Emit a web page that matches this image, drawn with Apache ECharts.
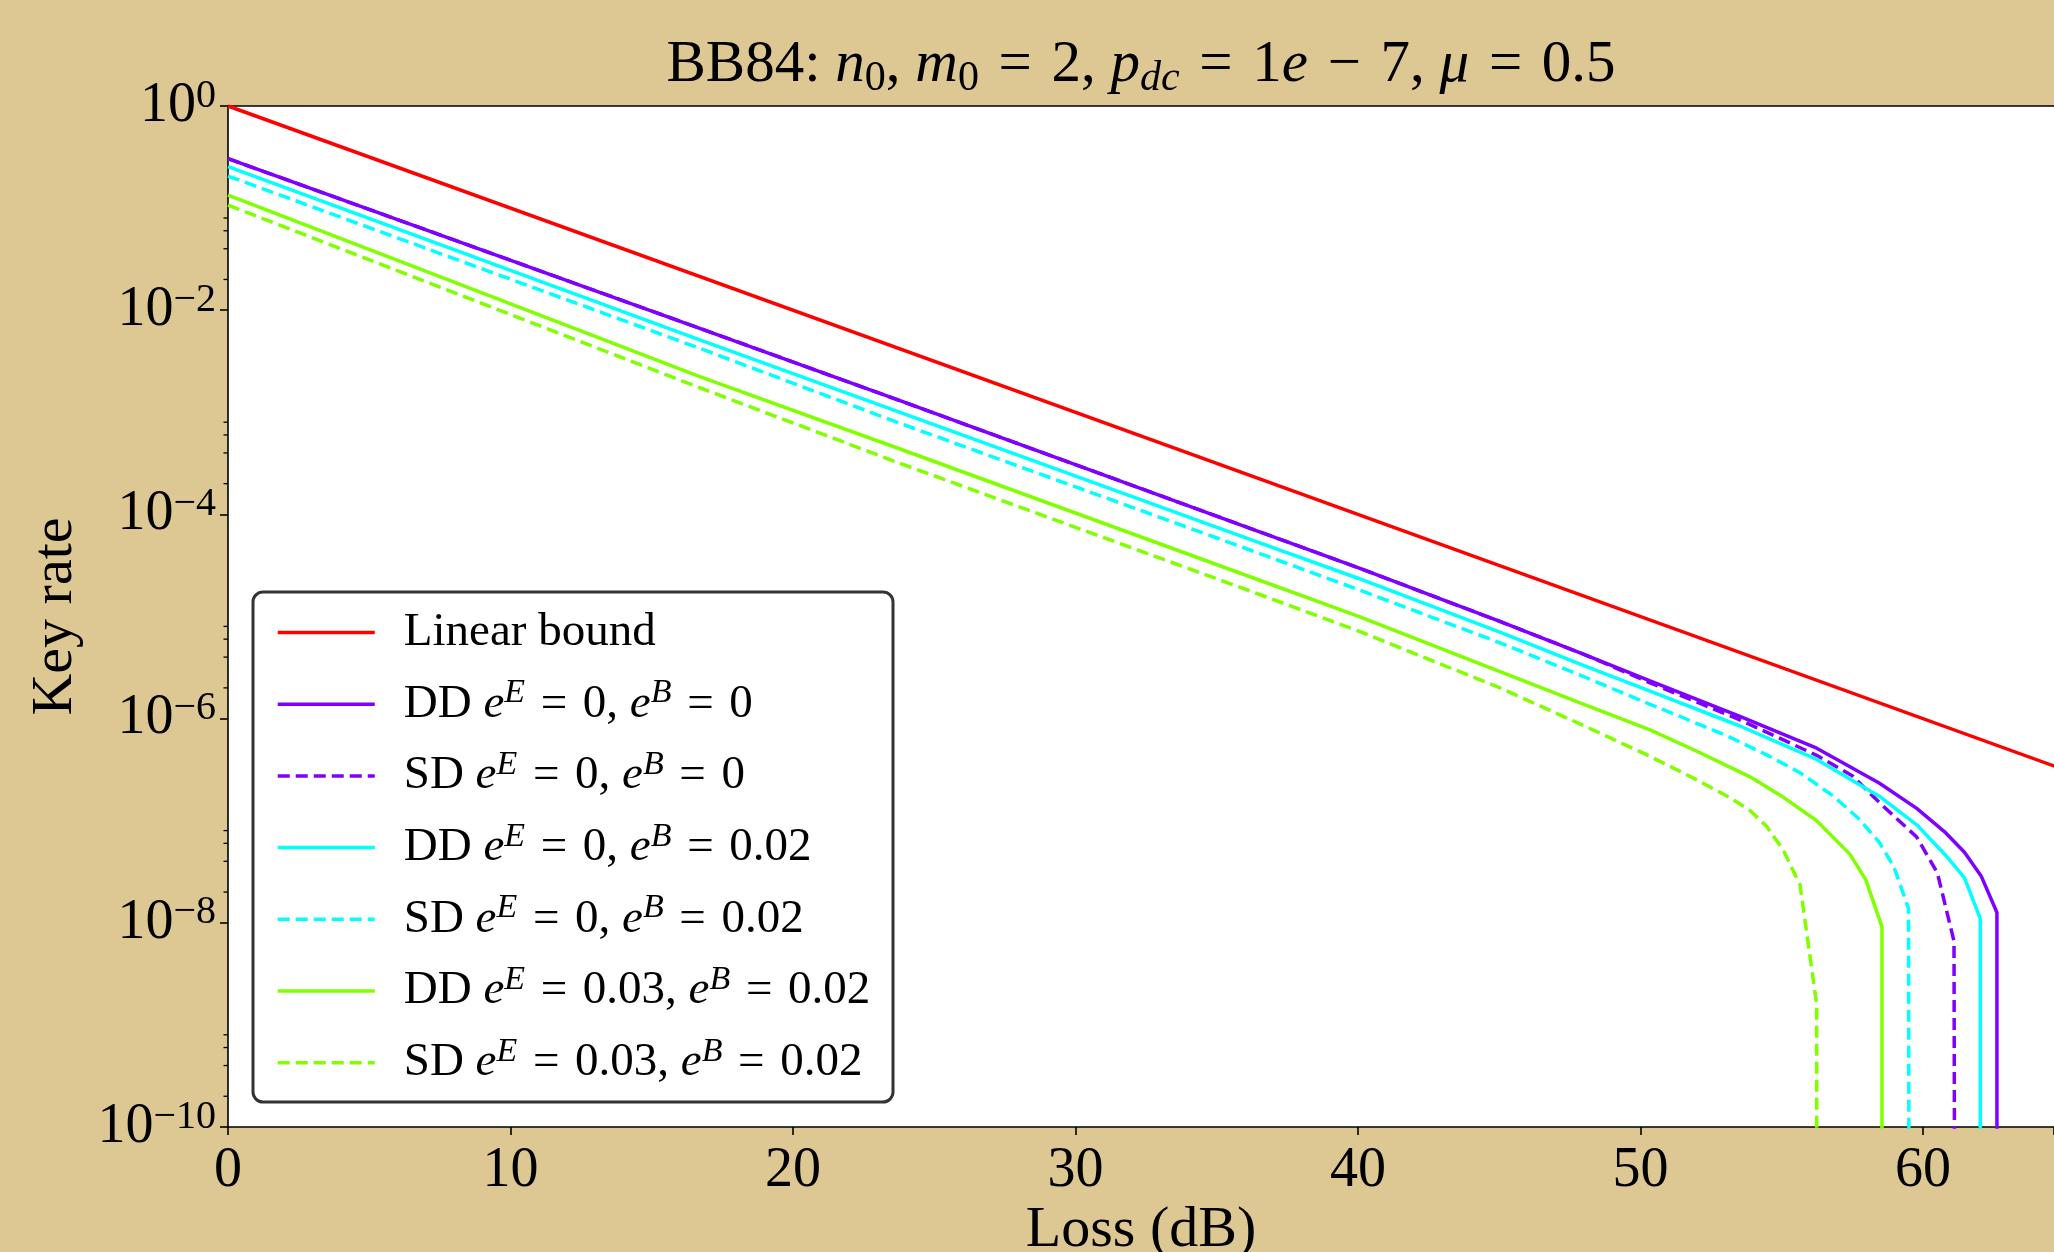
<!DOCTYPE html>
<html><head><meta charset="utf-8">
<script src="https://cdn.jsdelivr.net/npm/echarts@6/dist/echarts.min.js"></script>
<style>html,body{margin:0;padding:0;background:#ddc792;overflow:hidden}#c{width:2054px;height:1252px}</style>
</head><body><div id="c"></div><script>
// ---------- data ----------
const xTickValues = [0, 10, 20, 30, 40, 50, 60];
const yMajorExponents = [0, -2, -4, -6, -8, -10];
const yMinorTicks = [2e-10,4e-10,6e-10,8e-10, 2e-8,4e-8,6e-8,8e-8, 2e-6,4e-6,6e-6,8e-6, 2e-4,4e-4,6e-4,8e-4, 2e-2,4e-2,6e-2,8e-2];
const FLOOR = 1e-13; // rate dropped to zero

const linearBound = [[0, 1], [65, 3.16e-7]];
const ddE0B0 = [[0,3.05e-1],[16.7,6.65e-3],[23.79,1.30e-3],[36.18,7.31e-5],[40,3.01e-5],[45,9.0e-6],[48,4.26e-6],[50.34,2.34e-6],[53.5,1.06e-6],[56.24,5.13e-7],[58.45,2.34e-7],[59.78,1.32e-7],[60.81,7.59e-8],[61.47,4.9e-8],[62.06,2.88e-8],[62.62,1.26e-8],[62.62,FLOOR]];
const sdE0B0 = [[0,3.05e-1],[16.7,6.65e-3],[23.79,1.30e-3],[36.18,7.31e-5],[40,3.01e-5],[45,9.0e-6],[48,4.26e-6],[50.34,2.24e-6],[53.5,9.77e-7],[56.24,4.37e-7],[57.5,2.75e-7],[58.52,1.45e-7],[59.78,6.92e-8],[60.51,3.09e-8],[61.1,6.61e-9],[61.14,FLOOR]];
const ddE0B002 = [[0,2.55e-1],[16.7,5.13e-3],[23.79,1.0e-3],[36.18,5.70e-5],[40,2.37e-5],[45,7.08e-6],[48,3.31e-6],[50.34,1.86e-6],[53.5,8.51e-7],[56.24,3.98e-7],[58.45,1.74e-7],[59.78,9.12e-8],[60.81,4.57e-8],[61.47,2.75e-8],[62.03,1.1e-8],[62.03,FLOOR]];
const sdE0B002 = [[0,2.06e-1],[16.7,4.23e-3],[23.79,7.8e-4],[36.18,4.48e-5],[40,1.84e-5],[45,5.56e-6],[48,2.57e-6],[50.34,1.38e-6],[53,6.92e-7],[54.5,4.37e-7],[55.65,2.95e-7],[56.83,1.74e-7],[57.72,1.05e-7],[58.45,6.17e-8],[58.97,3.55e-8],[59.49,1.38e-8],[59.52,FLOOR]];
const ddE003B002 = [[0,1.34e-1],[16.7,2.24e-3],[23.79,4.37e-4],[36.18,2.45e-5],[40,1.01e-5],[45.03,2.88e-6],[48,1.38e-6],[50.34,7.76e-7],[52,4.79e-7],[53.88,2.69e-7],[55,1.74e-7],[56.24,1.0e-7],[57.42,4.68e-8],[57.98,2.63e-8],[58.55,9.12e-9],[58.55,FLOOR]];
const sdE003B002 = [[0,1.07e-1],[16.7,1.74e-3],[23.79,3.16e-4],[36.18,1.78e-5],[40,7.24e-6],[45.03,2.0e-6],[48,8.51e-7],[50.34,4.27e-7],[52,2.51e-7],[53.2,1.66e-7],[53.88,1.26e-7],[54.48,8.71e-8],[55.06,5.13e-8],[55.65,2.34e-8],[56.24,1.58e-9],[56.24,FLOOR]];

const seriesNames = ['Linear bound','DD e0 b0','SD e0 b0','DD e0 b002','SD e0 b002','DD e003 b002','SD e003 b002'];
const Q = '\u2004'; // wider math space
const eq = Q + '=' + Q;
const legendLabels = [
  '{r|Linear bound}',
  '{r|DD }{i|e}{s|E}{r|'+eq+'0, }{i|e}{s|B}{r|'+eq+'0}',
  '{r|SD }{i|e}{s|E}{r|'+eq+'0, }{i|e}{s|B}{r|'+eq+'0}',
  '{r|DD }{i|e}{s|E}{r|'+eq+'0, }{i|e}{s|B}{r|'+eq+'0.02}',
  '{r|SD }{i|e}{s|E}{r|'+eq+'0, }{i|e}{s|B}{r|'+eq+'0.02}',
  '{r|DD }{i|e}{s|E}{r|'+eq+'0.03, }{i|e}{s|B}{r|'+eq+'0.02}',
  '{r|SD }{i|e}{s|E}{r|'+eq+'0.03, }{i|e}{s|B}{r|'+eq+'0.02}'
];
const titleText = '{r|BB84: }{i|n}{sub|0}{r|, }{i|m}{sub|0}{r|'+eq+'2, }{i|p}{subi|dc}{r|'+eq+'1}{i|e}{r|'+Q+'−'+Q+'7, }{i|μ}{r|'+eq+'0.5}';
const seriesData = [linearBound, ddE0B0, sdE0B0, ddE0B002, sdE0B002, ddE003B002, sdE003B002];
const seriesColors = ['#ff0000','#7f00ff','#7f00ff','#00ffff','#00ffff','#80ff00','#80ff00'];
const seriesDashed = [false,false,true,false,true,false,true];

// ---------- chart ----------
const F = "'Liberation Serif','DejaVu Serif',serif";
const chart = echarts.init(document.getElementById('c'), null, {renderer:'canvas'});
const series = seriesData.map((d,i)=>({
  type:'line', name:seriesNames[i], data:d, symbol:'none', showSymbol:false, clip:true, z:3,
  lineStyle:{color:seriesColors[i], width:3.5, type: seriesDashed[i] ? [12,6] : 'solid'},
  itemStyle:{color:seriesColors[i]}
}));
series.push({
  type:'custom', name:'minorTicks', silent:true, clip:false, z:6,
  data: yMinorTicks.map(v=>[0,v]),
  encode:{x:0,y:1},
  renderItem:(params, api)=>{
    const p = api.coord([0, api.value(1)]);
    return {type:'line', shape:{x1:p[0]-4.5, y1:p[1], x2:p[0], y2:p[1]}, style:{stroke:'#000', lineWidth:1.3}};
  }
});
const legendMap = {};
seriesNames.forEach((n,i)=>legendMap[n]=legendLabels[i]);

chart.setOption({
  backgroundColor:'#ddc792',
  animation:false,
  title:{
    text:titleText,
    left:1141, top:30, textAlign:'center', padding:0,
    textStyle:{ fontWeight:'normal', rich:{
      r:{fontFamily:F,fontSize:59,fontWeight:'normal',color:'#000',lineHeight:70},
      i:{fontFamily:F,fontSize:59,fontWeight:'normal',fontStyle:'italic',color:'#000',lineHeight:70},
      sub:{fontFamily:F,fontSize:42,fontWeight:'normal',color:'#000',verticalAlign:'bottom',lineHeight:44},
      subi:{fontFamily:F,fontSize:42,fontWeight:'normal',fontStyle:'italic',color:'#000',verticalAlign:'bottom',lineHeight:44}
    }}
  },
  grid:{left:228, right:0, top:106, bottom:125, show:true, backgroundColor:'#fff', borderWidth:0, containLabel:false, outerBoundsMode:'none'},
  legend:{
    orient:'vertical', left:271, top:604, z:20,
    data:seriesNames, itemWidth:97, itemHeight:14, itemGap:20.2,
    formatter: n=>legendMap[n],
    lineStyle:{width:3.5},
    itemStyle:{opacity:0},
    textStyle:{padding:[0,0,0,24], rich:{
      r:{fontFamily:F,fontSize:47,color:'#000',lineHeight:56},
      i:{fontFamily:F,fontSize:47,fontStyle:'italic',color:'#000',lineHeight:56},
      s:{fontFamily:F,fontSize:34,fontStyle:'italic',color:'#000',verticalAlign:'top',lineHeight:30}
    }}
  },
  graphic:[{type:'rect', z:10, shape:{x:253,y:592,width:640,height:510,r:10}, style:{fill:'#fff',stroke:'#333',lineWidth:3}}],
  xAxis:[{
    type:'value', min:0, max:64.64, interval:10, gridIndex:0,
    axisLine:{show:true,lineStyle:{color:'#000',width:1.6}},
    axisTick:{show:true,inside:false,length:8,lineStyle:{color:'#000',width:1.6}},
    axisLabel:{fontFamily:F,fontSize:56,color:'#000',margin:16, formatter:v=> xTickValues.includes(v) ? String(v) : ''},
    splitLine:{show:false},
    name:'Loss (dB)', nameLocation:'middle', nameGap:75, nameMoveOverlap:false,
    nameTextStyle:{fontFamily:F,fontSize:58,color:'#000'}
  },{
    type:'value', position:'top', min:0, max:64.64, gridIndex:0,
    axisLine:{show:true,lineStyle:{color:'#000',width:1.6}},
    axisTick:{show:false}, axisLabel:{show:false}, splitLine:{show:false}
  }],
  yAxis:{
    type:'log', logBase:10, min:1e-10, max:1, interval:2,
    axisLine:{show:true,lineStyle:{color:'#000',width:1.6}},
    axisTick:{show:true,inside:false,length:8,lineStyle:{color:'#000',width:1.6}},
    splitLine:{show:false},
    axisLabel:{margin:12, formatter:v=>{
        const e = Math.round(Math.log10(v));
        if (!yMajorExponents.includes(e)) return '';
        return '{b|10}{s|' + (e<0 ? '−'+(-e) : String(e)) + '}';
      },
      rich:{
        b:{fontFamily:F,fontSize:56,color:'#000',lineHeight:60},
        s:{fontFamily:F,fontSize:40,color:'#000',verticalAlign:'top',lineHeight:30}
      }
    },
    name:'Key rate', nameLocation:'middle', nameGap:143, nameRotate:90,
    nameTextStyle:{fontFamily:F,fontSize:58,color:'#000'}
  },
  series:series
});
</script></body></html>
